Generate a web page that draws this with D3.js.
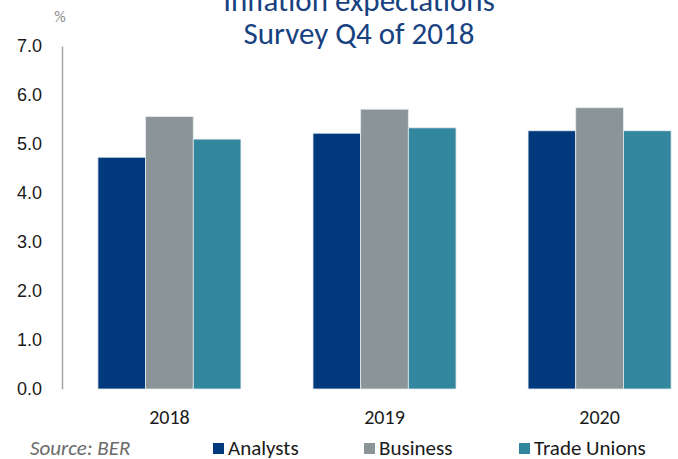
<!DOCTYPE html>
<html>
<head>
<meta charset="utf-8">
<script src="https://cdn.jsdelivr.net/npm/d3@7"></script>
<style>
  body { margin: 0; background: #fff; }
  svg { display: block; font-family: Carlito, Lato, "Open Sans", sans-serif; }
</style>
</head>
<body>
<svg id="chart" width="678" height="459"></svg>
<script>
// chart data
const years = ["2018", "2019", "2020"];
const seriesNames = ["Analysts", "Business", "Trade Unions"];
const analysts = [4.73, 5.22, 5.27];
const business = [5.56, 5.71, 5.74];
const tradeUnions = [5.10, 5.33, 5.27];
const yTicks = [0, 1, 2, 3, 4, 5, 6, 7];

const colors = ["#003a7d", "#8b9597", "#32879e"];
const allSeries = [analysts, business, tradeUnions];

const svg = d3.select("#chart");

// plot area
const MARGIN = { left: 62, right: 707, top: 46, bottom: 389 };

const x = d3.scaleBand()
  .domain(years)
  .range([MARGIN.left, MARGIN.right])
  .paddingInner(0.335)
  .paddingOuter(0.167);

const xSub = d3.scaleBand()
  .domain(seriesNames)
  .range([0, x.bandwidth()]);

const y = d3.scaleLinear()
  .domain([0, 7])
  .range([MARGIN.bottom, MARGIN.top]);

// bars
years.forEach((yr, i) => {
  svg.append("g")
    .selectAll("rect")
    .data(seriesNames)
    .join("rect")
    .attr("x", d => x(yr) + xSub(d))
    .attr("width", xSub.bandwidth())
    .attr("y", (d, j) => y(allSeries[j][i]))
    .attr("height", (d, j) => y(0) - y(allSeries[j][i]))
    .attr("fill", (d, j) => colors[j])
    .attr("stroke", "#e4eaee")
    .attr("stroke-width", 0.8);
});

// y axis
const yAxis = svg.append("g")
  .attr("transform", `translate(${MARGIN.left},0)`)
  .call(d3.axisLeft(y).tickValues(yTicks).tickFormat(d3.format(".1f")).tickSize(0).tickPadding(20));
yAxis.select(".domain").attr("stroke", "#a6a6a6").attr("stroke-width", 1.5);
yAxis.selectAll("text")
  .attr("fill", "#1a1a1a")
  .style("font-size", "18px");

// x axis labels
svg.append("g")
  .selectAll("text")
  .data(years)
  .join("text")
  .attr("x", d => x(d) + x.bandwidth() / 2)
  .attr("y", 424)
  .attr("text-anchor", "middle")
  .style("font-size", "20px")
  .attr("fill", "#1a1a1a")
  .text(d => d);

// unit label
svg.append("text")
  .attr("x", 60)
  .attr("y", 22)
  .attr("text-anchor", "middle")
  .style("font-size", "16px")
  .attr("fill", "#8c8c8c")
  .text("%");

// title (first line is cut off by the frame)
const title = svg.append("text")
  .attr("text-anchor", "middle")
  .attr("fill", "#17427f")
  .style("font-size", "31px");
title.append("tspan").attr("x", 359).attr("y", 11).text("Inflation expectations");
title.append("tspan").attr("x", 359).attr("y", 44).text("Survey Q4 of 2018");

// source
svg.append("text")
  .attr("x", 30)
  .attr("y", 455)
  .style("font-size", "21px")
  .style("font-style", "italic")
  .attr("fill", "#6b6b6b")
  .text("Source: BER");

// legend
const legendX = [213, 364, 519];
const legend = svg.append("g")
  .selectAll("g")
  .data(seriesNames)
  .join("g")
  .attr("transform", (d, i) => `translate(${legendX[i]},443)`);
legend.append("rect")
  .attr("width", 11)
  .attr("height", 11)
  .attr("fill", (d, i) => colors[i]);
legend.append("text")
  .attr("x", 15)
  .attr("y", 12)
  .style("font-size", "21px")
  .attr("fill", "#1a1a1a")
  .text(d => d);
</script>
</body>
</html>
